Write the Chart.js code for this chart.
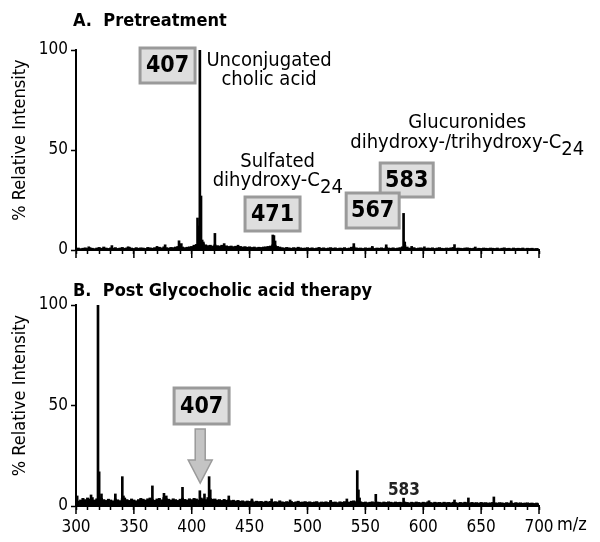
<!DOCTYPE html>
<html lang="en">
<head>
  <meta charset="UTF-8" />
  <title>Bile acid spectra</title>
  <style>
    html, body { margin: 0; padding: 0; background: #fff; }
    canvas { display: block; }
  </style>
</head>
<body>
  <canvas id="specA" width="600" height="270"></canvas>
  <canvas id="specB" width="600" height="272"></canvas>

  <script src="https://cdn.jsdelivr.net/npm/chart.js"></script>
  <script>
    // axis values
    const mzTicks = [300, 350, 400, 450, 500, 550, 600, 650, 700];
    const intensityTicks = [0, 50, 100];

    // baseline read every 2 m/z, from 300 to 700
    const baseStart = 300;
    const baseStep = 2;

    // A. Pretreatment
    const baselineA = [
      0.8, 1.0, 0.7, 0.9, 1.1, 0.8, 1.2, 0.9, 0.7, 1.0, 1.3, 0.9, 1.5, 1.0, 0.8, 1.1, 0.9, 1.2, 0.8, 1.0,
      1.3, 0.9, 1.1, 1.4, 1.0, 0.8, 1.2, 0.9, 1.1, 1.0, 0.8, 1.3, 1.1, 0.9, 1.2, 1.0, 1.4, 1.1, 1.6, 1.2,
      1.0, 1.3, 1.2, 1.5, 1.8, 2.0, 1.5, 1.2, 1.4, 1.6, 1.8, 2.4, 2.8, 3.0, 4.0, 3.2, 2.6, 2.2, 2.4, 2.0,
      2.6, 2.2, 2.0, 2.4, 1.9, 2.1, 1.8, 2.0, 1.7, 1.9, 1.6, 1.8, 1.5, 1.7, 1.4, 1.6, 1.3, 1.5, 1.2, 1.4,
      1.3, 1.5, 1.6, 1.8, 2.0, 2.6, 2.4, 1.8, 1.5, 1.2, 1.0, 1.3, 1.1, 0.9, 1.2, 1.0, 1.4, 1.1, 0.9, 1.0,
      1.2, 0.9, 1.1, 0.8, 1.0, 1.3, 0.9, 1.1, 0.8, 1.0, 1.2, 0.9, 1.1, 0.8, 1.0, 0.9, 1.2, 0.8, 1.0, 1.4,
      1.6, 1.1, 0.9, 1.0, 0.8, 1.1, 0.9, 1.0, 1.2, 0.8, 1.0, 0.9, 1.1, 0.8, 1.4, 1.0, 0.9, 1.1, 0.8, 1.0,
      1.2, 1.6, 2.4, 1.5, 1.0, 0.9, 1.2, 0.8, 1.0, 1.1, 0.9, 0.8, 1.0, 0.9, 1.1, 0.8, 1.0, 1.2, 0.9, 0.8,
      1.0, 0.9, 1.1, 1.3, 0.8, 1.0, 0.9, 0.8, 1.0, 1.1, 0.9, 0.8, 1.0, 0.7, 0.9, 0.8, 1.0, 0.9, 0.8, 1.0,
      0.9, 0.8, 1.0, 0.7, 0.9, 1.1, 0.8, 0.9, 0.7, 1.0, 0.8, 0.9, 0.8, 1.0, 0.7, 0.9, 0.8, 0.9, 0.7, 0.8, 0.6
    ];
    const peakMzA = [311, 331, 345, 370, 377, 389, 391, 405, 406, 407, 408, 409, 410, 420, 428, 440,
                     470, 471, 472, 540, 556, 568, 583, 584, 590, 601, 627, 645];
    const peakIntA = [1.6, 2.2, 1.6, 1.8, 2.6, 4.6, 3.2, 16, 12, 100, 27, 5, 4, 8.3, 3.2, 2.4,
                      7.5, 7.2, 4.5, 3.2, 1.8, 2.6, 18.3, 4, 1.8, 1.6, 2.7, 1.5];

    // B. Post glycocholic acid therapy
    const baselineB = [
      4.5, 2.5, 3.0, 3.8, 3.2, 4.0, 3.5, 4.2, 3.0, 3.6, 4.5, 3.8, 3.2, 2.8, 3.4, 3.0, 2.6, 3.5, 3.1, 2.7,
      3.6, 4.0, 3.2, 2.8, 3.5, 3.0, 2.6, 3.2, 3.8, 3.4, 3.0, 3.6, 4.0, 3.2, 2.9, 3.5, 3.8, 3.1, 4.2, 3.6,
      3.4, 3.0, 3.6, 3.2, 2.8, 3.4, 3.9, 3.3, 3.0, 3.6, 3.2, 3.8, 3.5, 3.0, 4.0, 3.6, 3.2, 4.2, 3.8, 3.4,
      3.5, 3.0, 3.2, 2.8, 3.3, 2.9, 3.1, 2.7, 2.9, 2.5, 2.8, 2.4, 2.6, 2.2, 2.5, 2.3, 2.7, 2.1, 2.4, 2.2,
      2.3, 2.0, 2.4, 2.1, 2.3, 1.9, 2.2, 2.0, 2.6, 2.1, 1.9, 2.2, 2.0, 2.3, 1.8, 2.1, 2.4, 1.9, 2.0, 2.2,
      1.9, 2.1, 1.8, 2.0, 2.2, 1.7, 2.0, 1.9, 2.1, 1.8, 2.3, 1.9, 2.0, 1.7, 2.1, 1.9, 2.2, 1.8, 2.0, 2.4,
      2.6, 2.2, 1.9, 2.1, 1.8, 2.0, 1.7, 1.9, 2.1, 1.8, 2.0, 1.9, 1.7, 2.0, 1.8, 2.1, 1.9, 1.7, 2.0, 1.8,
      1.9, 1.7, 2.0, 1.8, 1.6, 1.9, 1.7, 2.0, 1.8, 1.6, 1.9, 1.7, 2.1, 1.8, 1.6, 1.9, 1.7, 1.8, 1.6, 1.9,
      1.7, 1.8, 1.6, 1.9, 1.7, 1.5, 1.8, 1.6, 1.9, 1.7, 1.5, 1.8, 1.6, 1.7, 1.5, 1.8, 1.6, 1.7, 1.5, 1.6,
      1.8, 1.6, 1.5, 1.7, 1.6, 1.4, 1.7, 1.5, 1.6, 1.4, 1.7, 1.5, 1.6, 1.4, 1.5, 1.6, 1.4, 1.5, 1.3, 1.5, 1.2
    ];
    const peakMzB = [301, 313, 319, 320, 322, 334, 340, 341, 366, 376, 378, 392, 407, 411, 415, 416,
                     432, 452, 469, 485, 520, 534, 543, 544, 545, 559, 583, 605, 627, 639, 661, 676];
    const peakIntB = [5, 5.5, 100, 17, 6, 6, 14.6, 5, 10, 6.3, 5, 9.3, 7.6, 6, 14.6, 8,
                      5, 3.5, 3.5, 3, 2.8, 3.5, 17.6, 8, 4, 5.8, 3.9, 2.6, 3, 4, 4.5, 2.6];

    const FONT = '"DejaVu Sans Condensed", "Noto Sans", sans-serif';

    // annotations placed in data units (m/z, % intensity)
    const notesA = [
      { type: 'box', mz: 379.1, val: 92.25, w: 55, h: 35, text: '407' },
      { type: 'text', mz: 466.8, val: 92, lines: ['Unconjugated', 'cholic acid'] },
      { type: 'text', mz: 474.2, val: 41.7, lines: ['Sulfated'] },
      { type: 'sub', mz: 474.3, val: 32, main: 'dihydroxy-C', sub: '24' },
      { type: 'box', mz: 469.8, val: 18, w: 55, h: 34, text: '471' },
      { type: 'text', mz: 638, val: 60.8, lines: ['Glucuronides'] },
      { type: 'sub', mz: 638, val: 51.2, main: 'dihydroxy-/trihydroxy-C', sub: '24' },
      { type: 'box', mz: 585.7, val: 35, w: 53, h: 34, text: '583' },
      { type: 'box', mz: 556.3, val: 19.75, w: 53, h: 35, text: '567' }
    ];
    const notesB = [
      { type: 'box', mz: 408.5, val: 49.75, w: 55, h: 36, text: '407' },
      { type: 'arrow', mz: 407.3, tip: 11.4, neck: 22.9, tail: 38.3 },
      { type: 'bold', mz: 583.3, val: 5.5, text: '583' }
    ];

    const notesPlugin = {
      id: 'notes',
      afterDraw(chart, args, opts) {
        const { ctx, chartArea: area } = chart;
        const x = chart.scales.x, y = chart.scales.y;
        ctx.save();

        // longer marks at every 50 m/z
        ctx.strokeStyle = '#000';
        ctx.lineWidth = 1.5;
        mzTicks.forEach(v => {
          const px = x.getPixelForValue(v);
          ctx.beginPath();
          ctx.moveTo(px, area.bottom);
          ctx.lineTo(px, area.bottom + 8);
          ctx.stroke();
        });

        ctx.fillStyle = '#000';
        // panel title
        ctx.font = 'bold 18px ' + FONT;
        ctx.textAlign = 'left';
        ctx.textBaseline = 'alphabetic';
        ctx.fillText(opts.title, area.left - 3, 26);

        // y axis title
        ctx.save();
        ctx.translate(20, (area.top + area.bottom) / 2 - 10);
        ctx.rotate(-Math.PI / 2);
        ctx.font = '18px ' + FONT;
        ctx.textAlign = 'center';
        ctx.textBaseline = 'middle';
        ctx.fillText('% Relative Intensity', 0, 0);
        ctx.restore();

        if (opts.mzTitle) {
          ctx.font = '18px ' + FONT;
          ctx.textAlign = 'left';
          ctx.textBaseline = 'middle';
          ctx.fillText('m/z', area.right + 18, area.bottom + 19);
        }

        opts.items.forEach(n => {
          const cx = x.getPixelForValue(n.mz);
          if (n.type === 'box') {
            const cy = y.getPixelForValue(n.val);
            ctx.fillStyle = '#dedede';
            ctx.strokeStyle = '#9a9a9a';
            ctx.lineWidth = 3;
            ctx.fillRect(cx - n.w / 2, cy - n.h / 2, n.w, n.h);
            ctx.strokeRect(cx - n.w / 2, cy - n.h / 2, n.w, n.h);
            ctx.fillStyle = '#000';
            ctx.font = 'bold 23px ' + FONT;
            ctx.textAlign = 'center';
            ctx.textBaseline = 'middle';
            ctx.fillText(n.text, cx, cy + 1);
          } else if (n.type === 'text') {
            ctx.fillStyle = '#000';
            ctx.font = '20px ' + FONT;
            ctx.textAlign = 'center';
            ctx.textBaseline = 'alphabetic';
            n.lines.forEach((line, i) => ctx.fillText(line, cx, y.getPixelForValue(n.val) + i * 19));
          } else if (n.type === 'sub') {
            ctx.fillStyle = '#000';
            ctx.font = '20px ' + FONT;
            ctx.textAlign = 'left';
            ctx.textBaseline = 'alphabetic';
            const wMain = ctx.measureText(n.main).width;
            const wSub = ctx.measureText(n.sub).width;
            const x0 = cx - (wMain + wSub) / 2;
            const by = y.getPixelForValue(n.val);
            ctx.fillText(n.main, x0, by);
            ctx.fillText(n.sub, x0 + wMain, by + 7);
          } else if (n.type === 'bold') {
            ctx.fillStyle = '#222';
            ctx.font = 'bold 17px ' + FONT;
            ctx.textAlign = 'center';
            ctx.textBaseline = 'alphabetic';
            ctx.fillText(n.text, cx, y.getPixelForValue(n.val));
          } else if (n.type === 'arrow') {
            const tipY = y.getPixelForValue(n.tip);
            const neckY = y.getPixelForValue(n.neck);
            const tailY = y.getPixelForValue(n.tail);
            ctx.beginPath();
            ctx.moveTo(cx - 5, tailY);
            ctx.lineTo(cx + 5, tailY);
            ctx.lineTo(cx + 5, neckY);
            ctx.lineTo(cx + 12, neckY);
            ctx.lineTo(cx, tipY);
            ctx.lineTo(cx - 12, neckY);
            ctx.lineTo(cx - 5, neckY);
            ctx.closePath();
            ctx.fillStyle = '#c4c4c4';
            ctx.fill();
            ctx.strokeStyle = '#9a9a9a';
            ctx.lineWidth = 1.5;
            ctx.stroke();
          }
        });
        ctx.restore();
      }
    };

    function spectrumChart(id, cfg) {
      const base = cfg.baseline.map((v, i) => ({ x: baseStart + i * baseStep, y: v }));
      const peaks = cfg.peakMz.map((m, i) => ({ x: m, y: cfg.peakInt[i] }));
      const tickFont = { family: FONT, size: 17 };

      return new Chart(document.getElementById(id), {
        type: 'bar',
        data: {
          datasets: [
            { data: base, backgroundColor: '#000', barThickness: 2.4, grouped: false },
            { data: peaks, backgroundColor: '#000', barThickness: 2, grouped: false }
          ]
        },
        options: {
          responsive: false,
          animation: false,
          layout: { padding: { left: 0, right: 61, top: cfg.top, bottom: 0 } },
          plugins: {
            legend: { display: false },
            tooltip: { enabled: false },
            notes: { title: cfg.title, items: cfg.notes, mzTitle: cfg.showMz }
          },
          scales: {
            x: {
              type: 'linear',
              min: 300,
              max: 700,
              offset: false,
              afterFit: s => { s.height = cfg.axisHeight; },
              grid: { display: true, offset: false, drawOnChartArea: false, tickLength: 4, tickColor: '#000', tickWidth: 1.5 },
              border: { display: true, color: '#000', width: 2 },
              ticks: {
                stepSize: 10,
                autoSkip: false,
                maxRotation: 0,
                color: '#000',
                font: tickFont,
                padding: 7,
                callback: v => (cfg.showMz && mzTicks.includes(v)) ? String(v) : ''
              }
            },
            y: {
              min: 0,
              max: 100,
              afterFit: s => { s.width = 76; },
              afterBuildTicks: s => { s.ticks = intensityTicks.map(v => ({ value: v })); },
              grid: { display: true, drawOnChartArea: false, tickLength: 5, tickColor: '#000', tickWidth: 1.5 },
              border: { display: true, color: '#000', width: 2 },
              ticks: { color: '#000', font: tickFont, padding: 3 }
            }
          }
        },
        plugins: [notesPlugin]
      });
    }

    spectrumChart('specA', {
      baseline: baselineA, peakMz: peakMzA, peakInt: peakIntA,
      title: 'A.  Pretreatment', notes: notesA, showMz: false, top: 50, axisHeight: 20
    });
    spectrumChart('specB', {
      baseline: baselineB, peakMz: peakMzB, peakInt: peakIntB,
      title: 'B.  Post Glycocholic acid therapy', notes: notesB, showMz: true, top: 35, axisHeight: 36
    });
  </script>
</body>
</html>
